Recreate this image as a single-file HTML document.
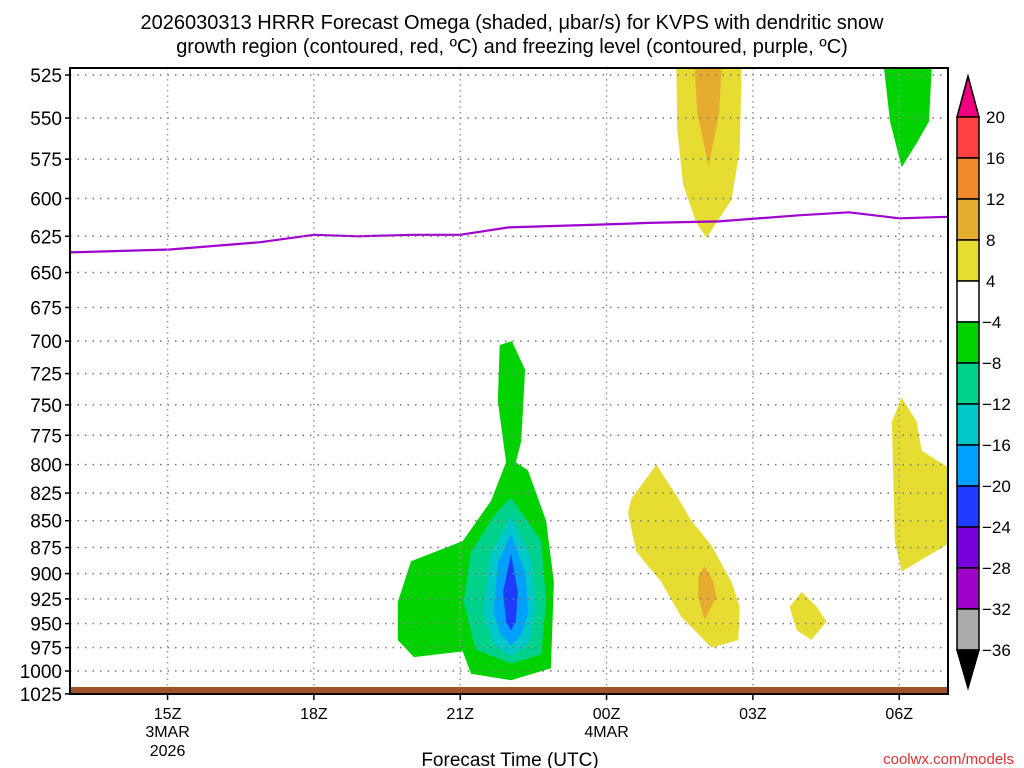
<!DOCTYPE html>
<html><head><meta charset="utf-8"><style>
body{margin:0;background:#fff;}
svg{display:block;font-family:"Liberation Sans",sans-serif;}
</style></head><body>
<svg id="chart" width="1024" height="768" viewBox="0 0 1024 768" xmlns="http://www.w3.org/2000/svg">
<text x="512" y="29" font-size="20" text-anchor="middle">2026030313 HRRR Forecast Omega (shaded, μbar/s) for KVPS with dendritic snow</text>
<text x="512" y="53" font-size="20" text-anchor="middle">growth region (contoured, red, ºC) and freezing level (contoured, purple, ºC)</text>
<g id="plot"></g>
<g id="yaxis"></g>
<g id="xaxis"></g>
<g id="cbar"></g>
<text x="510" y="766" font-size="19" text-anchor="middle">Forecast Time (UTC)</text>
<text x="1014" y="764" font-size="15" fill="#e03030" text-anchor="end">coolwx.com/models</text>
</svg>
<script>
const pressureTicks=[525,550,575,600,625,650,675,700,725,750,775,800,825,850,875,900,925,950,975,1000,1025];
const timeTickHours=[2,5,8,11,14,17];
const timeTickLabels=["15Z","18Z","21Z","00Z","03Z","06Z"];
const dateLabels=[["3MAR","2026"],["",""],["",""],["4MAR",""],["",""],["",""]];
const fzlHours=[0,2.05,3.9,5,5.9,7.03,8,8.99,11,11.86,13.3,14.94,15.97,17,18];
const fzlPressure=[636,634,629,624,625,624,624,619,617,616,615,611,609,613,612];
const cbarLevels=[20,16,12,8,4,-4,-8,-12,-16,-20,-24,-28,-32,-36];
const cbarColors=["#ff4040","#f08a28","#e6ac30","#e6dc32","#ffffff","#00d200","#00d28c","#00c8c8","#00a0ff","#1e3cff","#7800dc","#a000c8","#aaaaaa"];
const contourColor={"4":"#e6dc32","8":"#e6ac30","-4":"#00d200","-8":"#00d28c","-12":"#00c8c8","-16":"#00a0ff","-20":"#1e3cff"};
const omegaLevels=["4","8","4","8","4","4","-4","-4","-8","-12","-16","-20"];
const omegaShapes=[
[[12.43,519],[13.77,519],[13.73,570],[13.56,601],[13.25,616],[13.05,626],[12.84,616],[12.57,591],[12.45,557]],
[[12.8,519],[13.36,519],[13.31,547],[13.09,579],[12.86,547]],
[[12.02,800],[12.43,827],[12.74,850],[13.15,873],[13.56,908],[13.73,933],[13.7,967],[13.15,975],[12.53,943],[12.12,908],[11.61,879],[11.44,843],[11.51,830]],
[[13.01,893],[13.19,908],[13.25,923],[13.01,946],[12.88,923],[12.88,903]],
[[15.0,918],[15.31,933],[15.51,948],[15.2,967],[14.9,957],[14.75,933]],
[[17.05,744],[17.36,764],[17.46,788],[18.1,805],[18.1,869],[17.05,898],[16.91,869],[16.85,764]],
[[16.68,519],[17.67,519],[17.61,552],[17.36,565],[17.05,580],[16.81,552]],
[[6.99,888],[8.05,869],[8.63,832],[8.94,798],[8.77,747],[8.81,703],[9.06,700],[9.33,722],[9.25,780],[9.14,798],[9.39,805],[9.76,850],[9.92,908],[9.86,997],[9.04,1010],[8.22,1003],[8.05,979],[7.05,985],[6.72,967],[6.72,928]],
[[9.04,829],[9.66,869],[9.76,928],[9.66,982],[9.04,992],[8.32,977],[8.07,928],[8.22,879],[8.73,843]],
[[9.04,845],[9.45,885],[9.55,938],[9.4,971],[9.04,984],[8.68,971],[8.48,938],[8.6,885]],
[[9.04,862],[9.33,898],[9.4,938],[9.25,962],[9.04,973],[8.82,960],[8.68,938],[8.78,888]],
[[9.04,881],[9.18,918],[9.14,948],[9.04,957],[8.94,948],[8.88,918]]
];
const X0=70,X1=948,Y0=68,Y1=694;
const xs=h=>X0+h*(X1-X0)/18;
const ys=p=>75+925*Math.log(p/525);
const NS="http://www.w3.org/2000/svg";
function mk(tag,attrs,parent){const e=document.createElementNS(NS,tag);for(const k in attrs)e.setAttribute(k,attrs[k]);parent.appendChild(e);return e;}
const plot=document.getElementById('plot');
const clip=mk('clipPath',{id:'pc'},document.getElementById('chart'));
mk('rect',{x:X0,y:Y0,width:X1-X0,height:Y1-Y0},clip);
const shg=mk('g',{'clip-path':'url(#pc)'},plot);
omegaShapes.forEach((s,i)=>{
 const pts=s.map(d=>xs(d[0]).toFixed(1)+','+ys(d[1]).toFixed(1)).join(' ');
 const el=mk('polygon',{points:pts,fill:contourColor[omegaLevels[i]]},shg);
 
 
});
pressureTicks.forEach(p=>{
 const y=ys(p);
 const l=mk('line',{x1:X0,x2:X1,y1:y,y2:y,stroke:'#777','stroke-dasharray':'1.5 6','stroke-width':1.5},plot);
 
 
});
timeTickHours.forEach(h=>{
 const x=xs(h);
 const l=mk('line',{x1:x,x2:x,y1:Y0,y2:Y1,stroke:'#999','stroke-dasharray':'1.5 4','stroke-width':1.5},plot);
 
 
});
const g=mk('rect',{x:X0,y:687,width:X1-X0,height:7,fill:'#a0522d'},plot);


const fl=mk('polyline',{points:fzlHours.map((h,i)=>xs(h).toFixed(1)+','+ys(fzlPressure[i]).toFixed(1)).join(' '),fill:'none',stroke:'#a000d0','stroke-width':2.2},shg);


const fr=mk('rect',{x:X0,y:Y0,width:X1-X0,height:Y1-Y0,fill:'none',stroke:'#000','stroke-width':2},plot);


const ya=document.getElementById('yaxis');
pressureTicks.forEach(p=>{
 const y=ys(p);
 mk('line',{x1:X0-5,x2:X0,y1:y,y2:y,stroke:'#000','stroke-width':1.5},ya);
 const t=mk('text',{x:X0-8,y:y+7,'font-size':19,'text-anchor':'end'},ya);
 t.textContent=p;
 
 
});
const xa=document.getElementById('xaxis');
timeTickHours.forEach((h,i)=>{
 const x=xs(h);
 mk('line',{x1:x,x2:x,y1:Y1,y2:Y1+6,stroke:'#000','stroke-width':1.5},xa);
 const t=mk('text',{x:x,y:719,'font-size':16,'text-anchor':'middle'},xa);
 t.textContent=timeTickLabels[i];
 
 
 dateLabels[i].forEach((d,j)=>{ if(!d)return;
  const u=mk('text',{x:x,y:737+j*19,'font-size':16,'text-anchor':'middle'},xa);
  u.textContent=d;
  
  
 });
});
const cb=document.getElementById('cbar');
const CX=957,CW=22,CT=117,CH=41;
const tt=mk('polygon',{points:`${CX},${CT} ${CX+CW},${CT} ${CX+CW/2},76`,fill:'#f00080',stroke:'#000','stroke-width':1.5},cb);


cbarColors.forEach((c,i)=>{
 const r=mk('rect',{x:CX,y:CT+i*CH,width:CW,height:CH,fill:c,stroke:'#000','stroke-width':1.5},cb);
 
 
});
const bt=CT+cbarColors.length*CH;
const ba=mk('polygon',{points:`${CX},${bt} ${CX+CW},${bt} ${CX+CW/2},688`,fill:'#000',stroke:'#000','stroke-width':1.5},cb);


cbarLevels.forEach((v,i)=>{
 const t=mk('text',{x:v<0?982:986,y:CT+i*CH+6,'font-size':17},cb);
 t.textContent=v<0?'\u2212'+(-v):v;
 
 
});
</script>
</body></html>
